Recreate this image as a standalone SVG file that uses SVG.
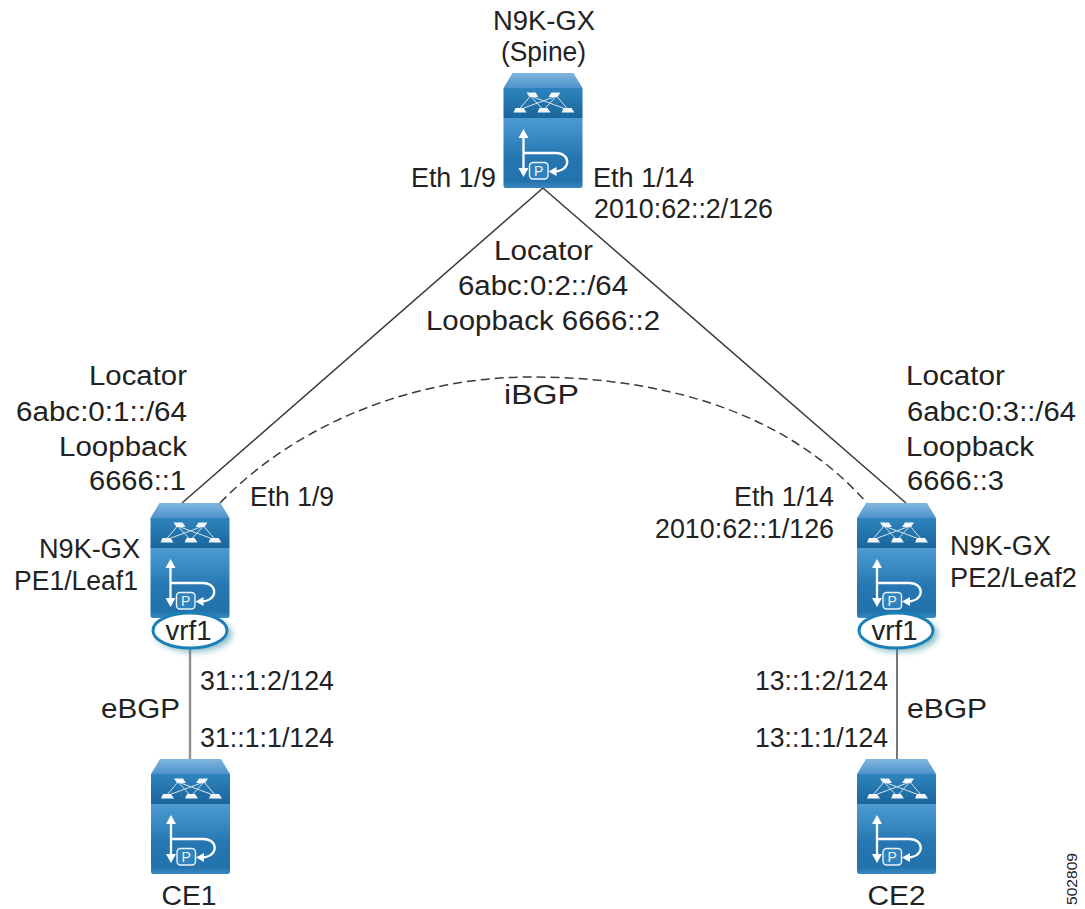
<svg xmlns="http://www.w3.org/2000/svg" width="1085" height="909" viewBox="0 0 1085 909">
<style>
text{font-family:"Liberation Sans",Arial,sans-serif;font-size:27px;fill:#222}
.m{text-anchor:middle}
.link{fill:none;stroke:#3a3a3a;stroke-width:1.5}
.grey{stroke:#8f8f8f;stroke-width:2.4}
.w{fill:none;stroke:#fff;stroke-width:2.3}
.wf{fill:#f2f7fb}
.th{fill:none;stroke:#d5e4f0;stroke-width:1}
.vrf{fill:#fff;stroke:#1b7fb8;stroke-width:3}
</style>
<defs>
<linearGradient id="t" x1="0" y1="0" x2="0" y2="1"><stop offset="0" stop-color="#80b6df"/><stop offset="1" stop-color="#4f93cb"/></linearGradient>
<linearGradient id="u" x1="0" y1="0" x2="0" y2="1"><stop offset="0" stop-color="#2f84bd"/><stop offset="1" stop-color="#1a659c"/></linearGradient>
<linearGradient id="l" x1="0" y1="0" x2="0" y2="1"><stop offset="0" stop-color="#4c9bd3"/><stop offset=".55" stop-color="#2677b1"/><stop offset=".9" stop-color="#2272ac"/><stop offset="1" stop-color="#3a89c1"/></linearGradient>
<filter id="sh" x="-30%" y="-40%" width="160%" height="180%"><feGaussianBlur stdDeviation="3"/></filter>
<g id="device">
<path d="M0,15L9,0H70L79,15Z" fill="url(#t)"/>
<rect y="15" width="79" height="30" fill="url(#u)"/>
<path d="M0,45H79V112.500Q79,115 76.500,115H2.500Q0,115 0,112.500Z" fill="url(#l)"/>
<path class="th" d="M27,23L15,37M27,23L40,37M27,23L65,37M53,23L65,37M53,23L40,37M53,23L15,37"/>
<path class="wf" d="M23,19.500h9l3,4.500h-9zM48,19.500h9l-3,4.500h-9zM12,35h8l3,4.500h-13zM36,35h8l3,4.500h-13zM60,35h8l3,4.500h-13z"/>
<path class="w" d="M20,62V98M20,80H52C68,80 68,98.500 50,98.500"/>
<path d="M20,56L15,65H25ZM20,104L15,95H25ZM45,98.500L53,94V103Z" fill="#fff"/>
<rect x="26" y="89.500" width="18.500" height="16.500" rx="3.500" fill="#2f82bb" stroke="#edf4f9" stroke-width="1.400"/>
<text x="35.250" y="103" class="m" style="font-size:14px;fill:#edf4f9">P</text>
</g>
</defs>

<g id="connectors">
<path class="link" d="M543,188L182,503"/>
<path class="link" d="M543,188L906,503"/>
<path class="link" stroke-dasharray="9 5" d="M220,503C300,420 420,377 530,377C650,377 780,405 867,503"/>
<path class="link grey" d="M190,648V759"/>
<path class="link" style="stroke:#777;stroke-width:2" d="M897,648V759"/>
</g>

<g id="spine"><use href="#device" transform="translate(503.500,73)"/>
<text x="493" y="30" textLength="102" lengthAdjust="spacingAndGlyphs">N9K-GX</text>
<text x="501" y="61" textLength="85" lengthAdjust="spacingAndGlyphs">(Spine)</text></g>

<g id="pe1"><use href="#device" transform="translate(150.500,503)"/>
<ellipse cx="194" cy="634" rx="38" ry="18" fill="#2a8a9a" opacity=".55" filter="url(#sh)"/>
<ellipse class="vrf" cx="190" cy="630.500" rx="37" ry="17.500"/>
<text x="165.500" y="640" textLength="46" lengthAdjust="spacingAndGlyphs">vrf1</text>
<text x="39" y="558" textLength="101" lengthAdjust="spacingAndGlyphs">N9K-GX</text>
<text x="14" y="590" textLength="124" lengthAdjust="spacingAndGlyphs">PE1/Leaf1</text></g>

<g id="pe2"><use href="#device" transform="translate(857,503)"/>
<ellipse cx="900" cy="634" rx="38" ry="18" fill="#2a8a9a" opacity=".55" filter="url(#sh)"/>
<ellipse class="vrf" cx="896" cy="630.500" rx="37" ry="17.500"/>
<text x="871.500" y="640" textLength="46" lengthAdjust="spacingAndGlyphs">vrf1</text>
<text x="950" y="555" textLength="101" lengthAdjust="spacingAndGlyphs">N9K-GX</text>
<text x="950" y="587" textLength="127" lengthAdjust="spacingAndGlyphs">PE2/Leaf2</text></g>

<g id="ce1"><use href="#device" transform="translate(151,759)"/>
<text x="161.500" y="905" textLength="55" lengthAdjust="spacingAndGlyphs">CE1</text></g>
<g id="ce2"><use href="#device" transform="translate(857,759)"/>
<text x="867.500" y="905" textLength="58" lengthAdjust="spacingAndGlyphs">CE2</text></g>

<g id="labels">
<text x="411" y="187" textLength="85" lengthAdjust="spacingAndGlyphs">Eth 1/9</text>
<text x="593" y="187" textLength="101" lengthAdjust="spacingAndGlyphs">Eth 1/14</text>
<text x="594" y="218" textLength="179" lengthAdjust="spacingAndGlyphs">2010:62::2/126</text>
<text x="494" y="260" textLength="99" lengthAdjust="spacingAndGlyphs">Locator</text>
<text x="458" y="295" textLength="170" lengthAdjust="spacingAndGlyphs">6abc:0:2::/64</text>
<text x="426" y="330" textLength="234" lengthAdjust="spacingAndGlyphs">Loopback 6666::2</text>
<text x="89" y="385" textLength="98" lengthAdjust="spacingAndGlyphs">Locator</text>
<text x="16" y="421" textLength="171" lengthAdjust="spacingAndGlyphs">6abc:0:1::/64</text>
<text x="59" y="456" textLength="128" lengthAdjust="spacingAndGlyphs">Loopback</text>
<text x="89" y="490" textLength="97" lengthAdjust="spacingAndGlyphs">6666::1</text>
<text x="906" y="385" textLength="99" lengthAdjust="spacingAndGlyphs">Locator</text>
<text x="907" y="421" textLength="169" lengthAdjust="spacingAndGlyphs">6abc:0:3::/64</text>
<text x="906" y="456" textLength="128" lengthAdjust="spacingAndGlyphs">Loopback</text>
<text x="907" y="490" textLength="97" lengthAdjust="spacingAndGlyphs">6666::3</text>
<text x="504" y="404" textLength="75" lengthAdjust="spacingAndGlyphs">iBGP</text>
<text x="250" y="506" textLength="84" lengthAdjust="spacingAndGlyphs">Eth 1/9</text>
<text x="734" y="506" textLength="100" lengthAdjust="spacingAndGlyphs">Eth 1/14</text>
<text x="655" y="538" textLength="179" lengthAdjust="spacingAndGlyphs">2010:62::1/126</text>
<text x="200" y="690" textLength="134" lengthAdjust="spacingAndGlyphs">31::1:2/124</text>
<text x="200" y="747" textLength="134" lengthAdjust="spacingAndGlyphs">31::1:1/124</text>
<text x="101" y="718" textLength="79" lengthAdjust="spacingAndGlyphs">eBGP</text>
<text x="755" y="690" textLength="133" lengthAdjust="spacingAndGlyphs">13::1:2/124</text>
<text x="755" y="747" textLength="133" lengthAdjust="spacingAndGlyphs">13::1:1/124</text>
<text x="907" y="718" textLength="80" lengthAdjust="spacingAndGlyphs">eBGP</text>
<text transform="translate(1077,905) rotate(-90)" textLength="52" lengthAdjust="spacingAndGlyphs" style="font-size:15px">502809</text>
</g>
</svg>
